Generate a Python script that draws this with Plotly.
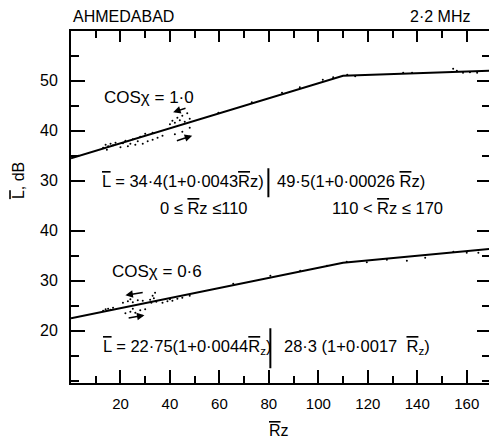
import plotly.graph_objects as go

# ---------------- data ----------------
rz_fit = [0, 110, 170]
L_top_fit = [34.5, 51.0, 52.0]      # cos chi = 1.0
L_bot_fit = [22.5, 33.6, 36.4]      # cos chi = 0.6

top_pts_x = [3, 13, 14, 14.5, 15, 16, 17, 18, 22, 25, 28, 30, 33,
             20, 21, 23, 24, 26, 27, 29, 31, 33, 35, 37, 42, 45, 48,
             40, 41, 42, 43, 44, 45, 46, 47, 48,
             59.6, 73.1, 85.3, 92.5, 101.8, 106, 111.7, 114.9, 134.3,
             137.9, 154.5, 156, 158.5, 161.3, 164.2]
top_pts_y = [35.0, 36.6, 37.2, 36.2, 36.9, 37.4, 37.1, 37.6, 38.0, 38.3, 38.8, 39.4, 39.6,
             36.7, 37.5, 36.9, 37.4, 37.2, 37.9, 37.4, 37.9, 38.2, 38.6, 39.0, 39.3, 39.8, 40.6,
             41.3, 42.0, 41.6, 42.6, 42.1, 43.0, 41.8, 43.5, 42.4,
             43.6, 45.7, 47.6, 48.7, 50.2, 50.7, 51.2, 50.9, 51.6,
             51.6, 52.4, 52.0, 51.6, 51.7, 51.6]

bot_pts_x = [13, 14, 15, 16, 17,
             21, 23, 24, 25, 27, 29,
             32, 32.5, 33, 33.5, 34, 34.5,
             22, 24, 25, 26, 28, 30,
             37, 39, 40, 41, 43, 45, 48,
             65.6, 80.6, 92.7, 103.5, 111.5, 119.6, 127.7, 135.8, 143.2,
             154.6, 160, 164.7]
bot_pts_y = [24.0, 24.3, 24.4, 24.2, 24.6,
             25.6, 25.9, 26.3, 25.7, 26.1, 26.0,
             26.2, 25.6, 27.0, 26.5, 27.6, 25.8,
             23.5, 23.8, 24.4, 23.6, 24.1, 24.3,
             25.6, 25.9, 26.3, 26.0, 26.4, 26.6, 27.0,
             29.4, 31.0, 32.0, 33.0, 33.8, 33.7, 34.2, 34.0, 34.6,
             35.8, 35.6, 35.6]

x_tick_vals = [20, 40, 60, 80, 100, 120, 140, 160]
top_tick_vals = [30, 40, 50]
bot_tick_vals = [20, 30, 40]

FONT = "Liberation Sans"
INK = "black"

fig = go.Figure()

# top panel
fig.add_trace(go.Scatter(x=rz_fit, y=L_top_fit, mode="lines",
                         line=dict(color=INK, width=2), xaxis="x2", yaxis="y2",
                         showlegend=False, hoverinfo="skip"))
fig.add_trace(go.Scatter(x=top_pts_x, y=top_pts_y, mode="markers",
                         marker=dict(color=INK, size=2), xaxis="x2", yaxis="y2",
                         showlegend=False))
# bottom panel
fig.add_trace(go.Scatter(x=rz_fit, y=L_bot_fit, mode="lines",
                         line=dict(color=INK, width=2), xaxis="x", yaxis="y",
                         showlegend=False, hoverinfo="skip"))
fig.add_trace(go.Scatter(x=bot_pts_x, y=bot_pts_y, mode="markers",
                         marker=dict(color=INK, size=2), xaxis="x", yaxis="y",
                         showlegend=False))

split = 0.5037
minor_y = dict(dtick=5, ticklen=8, tickcolor=INK, tickwidth=2, ticks="inside")
minor_x = dict(dtick=10, ticklen=7, tickcolor=INK, tickwidth=2, ticks="inside")

common_y = dict(showline=True, linecolor=INK, linewidth=2, ticks="inside",
                ticklen=14, tickwidth=2, tickcolor=INK, showgrid=False,
                zeroline=False, tickfont=dict(family=FONT, size=16, color=INK),
                ticklabelstandoff=8)

fig.update_layout(
    width=489, height=441,
    margin=dict(l=71, r=0, t=31, b=58),
    paper_bgcolor="white", plot_bgcolor="white",
    font=dict(family=FONT, color=INK),
    xaxis=dict(domain=[0, 1], anchor="y", range=[0, 169], showline=True,
               linecolor=INK, linewidth=2, ticks="inside", ticklen=13,
               tickwidth=2, tickcolor=INK, tickvals=x_tick_vals,
               showgrid=False, zeroline=False, minor=minor_x,
               tickfont=dict(family=FONT, size=15, color=INK),
               ticklabelstandoff=6),
    xaxis2=dict(domain=[0, 1], anchor="y2", matches="x", side="top",
                showline=True, linecolor=INK, linewidth=2, ticks="inside",
                ticklen=11, tickwidth=2, tickcolor=INK, tickvals=x_tick_vals,
                showticklabels=False, showgrid=False, zeroline=False,
                minor=minor_x),
    yaxis=dict(domain=[0, split], anchor="x", range=[9.54, 45],
               tickvals=bot_tick_vals, minor=minor_y, **common_y),
    yaxis2=dict(domain=[split, 1], anchor="x2", range=[25, 59.94],
                tickvals=top_tick_vals, minor=minor_y, **common_y),
    yaxis3=dict(overlaying="y", side="right", anchor="x", matches="y",
                showline=False, ticks="inside", ticklen=12, tickwidth=2,
                tickcolor=INK, tickvals=bot_tick_vals, showticklabels=False,
                showgrid=False, zeroline=False,
                minor=dict(dtick=5, ticklen=7, tickcolor=INK, tickwidth=2, ticks="inside")),
    yaxis4=dict(overlaying="y2", side="right", anchor="x2", matches="y2",
                showline=False, ticks="inside", ticklen=12, tickwidth=2,
                tickcolor=INK, tickvals=top_tick_vals, showticklabels=False,
                showgrid=False, zeroline=False,
                minor=dict(dtick=5, ticklen=7, tickcolor=INK, tickwidth=2, ticks="inside")),
)

# invisible traces so right-side overlay axes are drawn
fig.add_trace(go.Scatter(x=[None], y=[None], xaxis="x", yaxis="y3", showlegend=False))
fig.add_trace(go.Scatter(x=[None], y=[None], xaxis="x2", yaxis="y4", showlegend=False))

ann = []
def txt(x, y, s, xref, yref, size=15, xanchor="left", yanchor="middle", angle=0):
    ann.append(dict(x=x, y=y, text=s, xref=xref, yref=yref, showarrow=False,
                    xanchor=xanchor, yanchor=yanchor, textangle=angle,
                    font=dict(family=FONT, size=size, color=INK)))

R = "<span style='text-decoration:overline'>R</span>"
L = "<span style='text-decoration:overline'>L</span>"
txt(0.0, 1.04, "AHMEDABAD", "paper", "paper", size=16)
txt(0.959, 1.04, "2·2 MHz", "paper", "paper", size=16, xanchor="right")
txt(-0.124, 0.574, L + ", dB", "paper", "paper", size=16, xanchor="center", angle=-90)
txt(0.4976, -0.136, R + "z", "paper", "paper", size=16, xanchor="center")

txt(12.7, 46.7, "COSχ = 1·0", "x2", "y2", size=17)
txt(11.9, 29.9, L + " = 34·4(1+0·0043" + R + "z)", "x2", "y2", size=16.5)
txt(82.6, 29.9, "49·5(1+0·00026 " + R + "z)", "x2", "y2", size=16.5)
txt(53.8, 44.5, "0 ≤ " + R + "z ≤110", "x", "y", size=16.5, xanchor="center")
txt(128.0, 44.5, "110 < " + R + "z ≤ 170", "x", "y", size=16.5, xanchor="center")
txt(15.8, 31.9, "COSχ = 0·6", "x", "y", size=17)
txt(12.0, 16.7, L + " = 22·75(1+0·0044" + R + "<sub>z</sub>)", "x", "y", size=16.5)
txt(85.4, 16.7, "28·3 (1+0·0017  " + R + "<sub>z</sub>)", "x", "y", size=16.5)

def arrow(x0, y0, x1, y1, xr, yr):
    ann.append(dict(x=x1, y=y1, ax=x0, ay=y0, xref=xr, yref=yr, axref=xr, ayref=yr,
                    showarrow=True, arrowhead=2, arrowsize=1, arrowwidth=1.5,
                    arrowcolor=INK, text=""))

arrow(46.9, 44.6, 41.3, 43.7, "x2", "y2")
arrow(42.2, 37.9, 49.0, 39.0, "x2", "y2")
arrow(29.6, 27.7, 22.0, 27.1, "x", "y")
arrow(22.7, 22.5, 29.7, 23.1, "x", "y")

fig.update_layout(annotations=ann)

fig.add_shape(type="line", x0=79.8, x1=79.8, y0=26.7, y1=32.5, xref="x2", yref="y2",
              line=dict(color=INK, width=2))
fig.add_shape(type="line", x0=80.6, x1=80.6, y0=12.5, y1=20.5, xref="x", yref="y",
              line=dict(color=INK, width=2))

fig.write_html("out.html", config={"displayModeBar": False},
               post_script="document.body.style.margin='0px';")
